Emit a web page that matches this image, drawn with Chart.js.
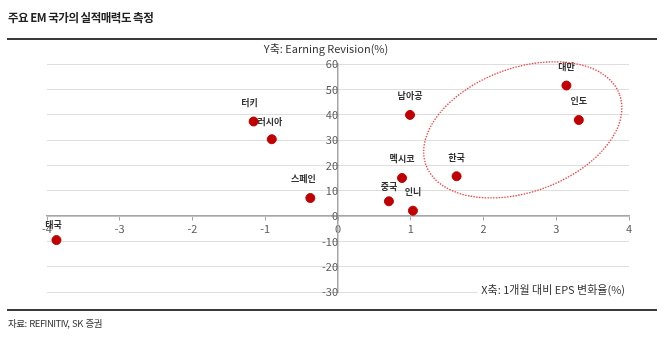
<!DOCTYPE html>
<html>
<head>
<meta charset="utf-8">
<script src="https://cdn.jsdelivr.net/npm/chart.js@4.4.1/dist/chart.umd.min.js"></script>
<style>
  html, body { margin: 0; padding: 0; background: #fff; }
  #wrap { position: relative; width: 670px; height: 356px; overflow: hidden; }
  #c { position: absolute; left: 0; top: 0; }
  .t { position: absolute; font-family: "Noto Sans CJK KR", "Noto Sans", sans-serif; color: #222; white-space: nowrap; }
  #title { left: 8px; top: 9px; font-size: 11.5px; font-weight: bold; letter-spacing: -0.5px; }
  #topline { position: absolute; left: 7px; top: 38px; width: 650px; height: 2px; background: #3a3a3a; }
  #botline { position: absolute; left: 7px; top: 309px; width: 650px; height: 2px; background: #3a3a3a; }
  #source { left: 8px; top: 316px; font-size: 9.5px; letter-spacing: -0.5px; word-spacing: 1px; color: #333; }
</style>
</head>
<body>
<div id="wrap">
  <canvas id="c" width="670" height="356"></canvas>
  <div class="t" id="title">주요 EM 국가의 실적매력도 측정</div>
  <div id="topline"></div>
  <div id="botline"></div>
  <div class="t" id="source">자료: REFINITIV, SK 증권</div>
</div>
<script>
// ---- data ----
const countries = ['태국', '터키', '러시아', '스페인', '남아공', '멕시코', '중국', '인니', '한국', '대만', '인도'];
const epsChange = [-3.87, -1.16, -0.91, -0.38, 0.99, 0.88, 0.70, 1.03, 1.63, 3.14, 3.31];
const earningRevision = [-9.5, 37.3, 30.3, 7.1, 39.9, 15.0, 5.8, 2.1, 15.7, 51.5, 37.9];
const xTicks = [-4, -3, -2, -1, 0, 1, 2, 3, 4];
const yTicks = [-30, -20, -10, 0, 10, 20, 30, 40, 50, 60];
const yAxisTitle = 'Y축: Earning Revision(%)';
const xAxisTitle = 'X축: 1개월 대비 EPS 변화율(%)';
// highlighted group (ellipse) centre in data units
const ellipseCentre = [2.54, 34.0];

const points = countries.map((c, i) => ({ x: epsChange[i], y: earningRevision[i] }));

const FONT = '"Noto Sans CJK KR", "Noto Sans", sans-serif';

const labelShift = { '태국': [-3, -15], '터키': [-4, -19], '러시아': [-2, -18], '스페인': [-7, -19], '중국': [0, -15] };

const overlay = {
  id: 'overlay',
  afterDatasetsDraw(chart) {
    const ctx = chart.ctx;
    const xs = chart.scales.x, ys = chart.scales.y;
    const meta = chart.getDatasetMeta(0);
    ctx.save();
    // point labels
    ctx.font = 'bold 9px ' + FONT;
    ctx.fillStyle = '#333';
    ctx.textAlign = 'center';
    ctx.textBaseline = 'middle';
    meta.data.forEach((el, i) => {
      const s = labelShift[countries[i]] || [0, -19];
      ctx.fillText(countries[i], el.x + s[0], el.y + s[1]);
    });
    // ellipse
    const cx = xs.getPixelForValue(ellipseCentre[0]);
    const cy = ys.getPixelForValue(ellipseCentre[1]);
    ctx.beginPath();
    ctx.setLineDash([1.4, 1.4]);
    ctx.strokeStyle = '#ff3b3b';
    ctx.lineWidth = 1.3;
    ctx.ellipse(cx, cy, 103, 62, -20 * Math.PI / 180, 0, Math.PI * 2);
    ctx.stroke();
    ctx.setLineDash([]);
    // axis titles
    ctx.font = '11px ' + FONT;
    ctx.fillStyle = '#333';
    ctx.textAlign = 'center';
    ctx.fillText(yAxisTitle, 326, 49);
    ctx.textAlign = 'right';
    const w = ctx.measureText(xAxisTitle).width;
    ctx.fillStyle = '#fff';
    ctx.fillRect(625 - w - 4, 282, w + 8, 16);
    ctx.fillStyle = '#333';
    ctx.fillText(xAxisTitle, 625, 290);
    ctx.restore();
  }
};

new Chart(document.getElementById('c'), {
  type: 'scatter',
  data: {
    datasets: [{
      data: points,
      backgroundColor: '#c00000',
      borderColor: '#c00000',
      pointRadius: 4.5,
      pointHoverRadius: 4.5
    }]
  },
  options: {
    responsive: false,
    animation: false,
    layout: { padding: { left: 47, right: 41, top: 64, bottom: 64 } },
    plugins: { legend: { display: false }, tooltip: { enabled: false } },
    scales: {
      x: {
        type: 'linear',
        min: -4, max: 4,
        position: { y: 0 },
        afterBuildTicks: s => { s.ticks = xTicks.map(v => ({ value: v })); },
        ticks: { color: '#595959', font: { family: FONT, size: 11 }, padding: 2 },
        grid: { drawOnChartArea: false, drawTicks: true, tickLength: 4, color: '#a6a6a6' },
        border: { color: '#a6a6a6', width: 1.5 }
      },
      y: {
        type: 'linear',
        min: -30, max: 60,
        position: { x: 0 },
        afterBuildTicks: s => { s.ticks = yTicks.map(v => ({ value: v })); },
        ticks: { color: '#595959', font: { family: FONT, size: 11 }, padding: 3 },
        grid: { color: '#dedede', lineWidth: 1, tickLength: 4, tickColor: '#a6a6a6' },
        border: { color: '#a6a6a6', width: 1.5 }
      }
    }
  },
  plugins: [overlay]
});
</script>
</body>
</html>
